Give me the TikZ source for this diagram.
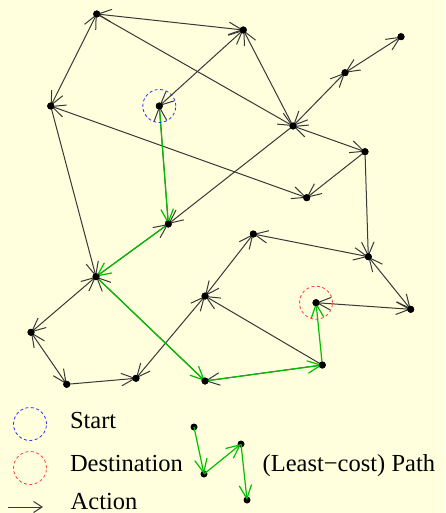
\documentclass[tikz,border=0pt]{standalone}
\usepackage{fontspec}
\setmainfont{Liberation Serif}
\usetikzlibrary{arrows.meta}
\definecolor{paper}{HTML}{FFFFDD}
\definecolor{edgegray}{HTML}{383838}
\definecolor{pathgreen}{HTML}{00BE00}
\definecolor{startblue}{HTML}{3030FF}
\definecolor{goalred}{HTML}{FF4040}
\begin{document}
\begin{tikzpicture}[x=1pt,y=-1pt,
  >={Straight Barb[length=13.5pt,width=12.5pt]},
  state/.style={circle,fill=black,inner sep=0pt,minimum size=7pt},
  act/.style={draw=edgegray,line width=1pt},
  best/.style={draw=pathgreen,line width=1.2pt},
  ring/.style={circle,dashed,dash pattern=on 3pt off 2.5pt,line width=0.8pt,minimum size=33pt,inner sep=0pt},
  keytext/.style={inner sep=0pt,anchor=base west,font=\fontsize{24.5}{28}\selectfont}
]
% canvas
\fill[paper] (0,0) rectangle (445,513);
\useasboundingbox (0,0) rectangle (445,513);

% states
\node[state] (A) at (96.7,14) {};
\node[state] (B) at (243.3,30) {};
\node[state] (C) at (401,36.7) {};
\node[state] (D) at (345,72.7) {};
\node[state] (E) at (50.7,106) {};
\node[state] (S) at (159.3,106) {};
\node[state] (F) at (293,126) {};
\node[state] (G) at (365,151.7) {};
\node[state] (H) at (306.7,197.7) {};
\node[state] (I) at (168.3,224) {};
\node[state] (J) at (253.3,234) {};
\node[state] (K) at (96,276.7) {};
\node[state] (L) at (368.3,256.7) {};
\node[state] (M) at (205,296) {};
\node[state] (X) at (316,302.7) {};
\node[state] (N) at (410.7,309.3) {};
\node[state] (O) at (31,332.3) {};
\node[state] (P) at (66.7,384.3) {};
\node[state] (Q) at (136,378.3) {};
\node[state] (R) at (205,381) {};
\node[state] (T) at (322.3,365) {};

% actions
\draw[act,<->] (A.center) -- (B.center);
\draw[act,<->] (A.center) -- (E.center);
\draw[act,->] (A.center) -- (F.center);
\draw[act,<->] (B.center) -- (S.center);
\draw[act,->] (F.center) -- (B.center);
\draw[act,<->] (C.center) -- (D.center);
\draw[act,<->] (D.center) -- (F.center);
\draw[act,<->] (E.center) -- (H.center);
\draw[act,->] (E.center) -- (K.center);
\draw[act,<->] (F.center) -- (G.center);
\draw[act,->] (F.center) -- (I.center);
\draw[act,->] (G.center) -- (H.center);
\draw[act,->] (G.center) -- (L.center);
\draw[act,<->] (J.center) -- (L.center);
\draw[act,<->] (J.center) -- (M.center);
\draw[act,<->] (M.center) -- (Q.center);
\draw[act,->] (T.center) -- (M.center);
\draw[act,<->] (K.center) -- (O.center);
\draw[act,<->] (O.center) -- (P.center);
\draw[act,->] (P.center) -- (Q.center);
\draw[act,<->] (X.center) -- (N.center);
\draw[act,<->] (L.center) -- (N.center);
\draw[act,->] (I.center) -- (S.center);
\draw[act,->] (K.center) -- (I.center);
\draw[act,->] (R.center) -- (K.center);
\draw[act,->] (T.center) -- (R.center);

% least-cost path
\draw[best,->] (S.center) -- (I.center);
\draw[best,->] (I.center) -- (K.center);
\draw[best,->] (K.center) -- (R.center);
\draw[best,->] (R.center) -- (T.center);
\draw[best,->] (T.center) -- (X.center);

% redraw the dots on top of the lines
\foreach \n in {A,B,C,D,E,S,F,G,H,I,J,K,L,M,X,N,O,P,Q,R,T}
  \fill (\n.center) circle (3.5pt);

% start and destination markers
\node[ring,draw=startblue] (startring) at (S.center) {};
\node[ring,draw=goalred] (goalring) at (X.center) {};

% legend
\node[ring,draw=startblue] (startkey) at (30,424) {};
\node[ring,draw=goalred] (goalkey) at (30,468) {};
\node[keytext] (startlabel) at (69.8,428) {Start};
\node[keytext] (goallabel) at (69.8,471.5) {Destination};
\node[keytext] (actlabel) at (70.5,509) {Action};
\node[keytext] (pathlabel) at (262.5,471.5) {(Least−cost) Path};

\coordinate (act0) at (8,507);
\coordinate (act1) at (43,507);
\draw[act,-{Straight Barb[length=8.5pt,width=11pt]}] (act0) -- (act1);

\node[state] (k1) at (194,427) {};
\node[state] (k2) at (204,474) {};
\node[state] (k3) at (241,444) {};
\node[state] (k4) at (247,500) {};
\draw[best,->] (k1.center) -- (k2.center);
\draw[best,->] (k2.center) -- (k3.center);
\draw[best,->] (k3.center) -- (k4.center);
\end{tikzpicture}
\end{document}
